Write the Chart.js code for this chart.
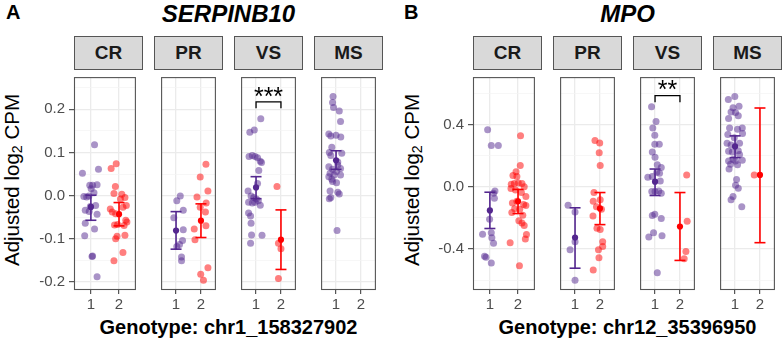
<!DOCTYPE html>
<html><head><meta charset="utf-8">
<script src="https://cdn.jsdelivr.net/npm/chart.js@4.4.1/dist/chart.umd.min.js"></script>
<style>
html,body{margin:0;padding:0;background:#fff;}
#root{position:relative;width:784px;height:341px;overflow:hidden;font-family:"Liberation Sans",Arial,sans-serif;}
.abs{position:absolute;white-space:nowrap;line-height:1;}
.tag{font-weight:bold;font-size:20px;color:#000;}
.title{font-weight:bold;font-style:italic;font-size:24px;color:#000;transform:translateX(-50%);}
.strip{position:absolute;box-sizing:border-box;background:#d9d9d9;border:1px solid #555;font-weight:bold;font-size:19px;color:#1a1a1a;display:flex;align-items:center;justify-content:center;}
.xt{font-weight:bold;font-size:20px;color:#000;transform:translate(-50%,-50%);}
.yt{font-size:20.5px;color:#000;transform:translate(-50%,-50%) rotate(-90deg);}
.yt sub{font-size:0.7em;vertical-align:-0.25em;line-height:0;}
canvas{position:absolute;}
</style></head>
<body><div id="root"></div>
<script>
// ---------- text ----------
const facets = ['CR','PR','VS','MS'];
const tags = ['A','B'];
const genes = ['SERPINB10','MPO'];
const xTitles = ['Genotype: chr1_158327902','Genotype: chr12_35396950'];
const xTickValues = [1, 2];
const xTickLabels = ['1', '2'];

// ---------- Panel A (SERPINB10) ----------
const A_yMajor = [-0.2, -0.1, 0, 0.1, 0.2];
const A_yLabels = ['-0.2', '-0.1', '0.0', '0.1', '0.2'];
const A_yMinor = [-0.15, -0.05, 0.05, 0.15, 0.25];
const A_yRange = [-0.2186, 0.2747];

const A_CR_g1 = [0.118, 0.052, 0.061, 0.024, 0.024, 0.025, 0.016, -0.002, -0.003, -0.001, 0.007, -0.025, -0.034, -0.037, -0.023, -0.043, -0.064, -0.077, -0.093, -0.140, -0.141, -0.188];
const A_CR_g1_jit = [0.13, -0.30, 0.27, -0.04, 0.06, 0.22, 0.01, -0.25, -0.15, -0.07, 0.11, -0.02, -0.20, -0.06, 0.17, 0.22, -0.20, 0.13, -0.22, 0.06, 0.04, 0.22];
const A_CR_g2 = [0.063, 0.074, 0.021, 0.005, 0.003, -0.008, -0.004, -0.031, -0.038, -0.042, -0.027, -0.023, -0.057, -0.061, -0.068, -0.067, -0.069, -0.094, -0.100, -0.092, -0.132, -0.151];
const A_CR_g2_jit = [-0.28, -0.10, -0.13, -0.18, 0.10, 0.05, 0.21, -0.31, -0.24, -0.12, 0.14, 0.26, 0.24, 0.28, -0.16, -0.05, 0.18, -0.07, -0.12, 0.21, 0.14, -0.18];
const A_PR_g1 = [-0.001, -0.012, -0.034, -0.051, -0.079, -0.104, -0.113, -0.118, -0.142, -0.151];
const A_PR_g1_jit = [0.17, 0.03, 0.29, -0.09, 0.29, 0.26, 0.14, 0.03, 0.22, 0.22];
const A_PR_g2 = [0.073, 0.043, -0.003, 0.011, -0.017, -0.027, -0.038, -0.077, -0.070, -0.102, -0.167, -0.182, -0.196];
const A_PR_g2_jit = [0.20, -0.03, -0.16, 0.28, 0.21, -0.03, 0.18, -0.27, 0.20, -0.24, 0.28, -0.01, 0.10];
const A_VS_g1 = [0.178, 0.147, 0.152, 0.091, 0.093, 0.091, 0.088, 0.080, 0.077, 0.058, 0.028, 0.011, -0.001, -0.004, -0.008, -0.017, -0.015, -0.015, -0.022, -0.012, -0.040, -0.047, -0.064, -0.091, -0.092, -0.110];
const A_VS_g1_jit = [0.19, -0.25, -0.07, -0.28, -0.15, -0.04, 0.06, 0.17, 0.22, 0.11, 0.06, -0.32, -0.20, -0.09, 0.01, -0.15, -0.30, -0.04, 0.17, 0.09, -0.30, -0.22, -0.20, -0.18, 0.24, -0.22];
const A_VS_g2 = [0.021, -0.110, -0.123, -0.192];
const A_VS_g2_jit = [-0.16, -0.10, 0.00, -0.10];
const A_MS_g1 = [0.230, 0.216, 0.204, 0.196, 0.172, 0.143, 0.138, 0.140, 0.136, 0.112, 0.100, 0.098, 0.093, 0.078, 0.067, 0.061, 0.071, 0.063, 0.056, 0.052, 0.048, 0.048, 0.044, 0.033, 0.030, 0.038, 0.011, 0.008, 0.004, -0.004, -0.007, -0.081];
const A_MS_g1_jit = [-0.12, -0.14, -0.10, 0.13, 0.18, -0.29, -0.21, 0.00, 0.19, -0.17, -0.27, 0.23, -0.21, 0.07, -0.29, -0.14, 0.07, 0.18, 0.02, -0.24, -0.08, 0.18, -0.29, -0.14, 0.02, -0.17, -0.24, 0.07, 0.13, -0.21, -0.27, 0.04];
const A_MS_g2 = [];
const A_MS_g2_jit = [];

const A_g1_mean = [-0.026, -0.081, 0.019, 0.082];
const A_g1_lo   = [-0.057, -0.124, -0.007, 0.061];
const A_g1_hi   = [0.001, -0.037, 0.044, 0.104];
const A_g2_mean = [-0.043, -0.058, -0.102, null];
const A_g2_lo   = [-0.070, -0.097, -0.171, null];
const A_g2_hi   = [-0.016, -0.019, -0.033, null];
const A_sig = [null, null, '***', null];
const A_sigBar = [0.2175, 0.2025, 0.2364]; // bracket line, bracket tips, label centre

// ---------- Panel B (MPO) ----------
const B_yMajor = [-0.4, 0, 0.4];
const B_yLabels = ['-0.4', '0.0', '0.4'];
const B_yMinor = [-0.6, -0.2, 0.2, 0.6];
const B_yRange = [-0.663, 0.7045];

const B_CR_g1 = [0.367, 0.265, 0.265, -0.027, -0.042, -0.073, -0.208, -0.305, -0.295, -0.328, -0.363, -0.446, -0.452, -0.489];
const B_CR_g1_jit = [-0.08, 0.05, 0.30, 0.18, 0.13, 0.16, -0.01, -0.26, 0.05, 0.07, 0.13, -0.19, -0.14, 0.05];
const B_CR_g2 = [0.327, 0.137, 0.097, 0.072, 0.066, 0.016, 0.021, 0.025, 0.021, 0.000, -0.011, -0.021, -0.037, -0.062, -0.104, -0.093, -0.114, -0.121, -0.141, -0.166, -0.145, -0.183, -0.218, -0.233, -0.249, -0.307, -0.336, -0.359, -0.508];
const B_CR_g2_jit = [0.09, 0.08, -0.07, -0.18, -0.04, -0.24, -0.13, 0.01, 0.14, 0.22, -0.25, -0.09, 0.12, 0.28, -0.20, -0.04, 0.20, 0.28, -0.12, -0.22, 0.06, 0.17, 0.03, 0.14, 0.22, 0.30, 0.26, -0.28, 0.05];
const B_PR_g1 = [-0.118, -0.162, -0.353, -0.404, -0.601];
const B_PR_g1_jit = [-0.28, 0.00, 0.00, -0.20, 0.00];
const B_PR_g2 = [0.298, 0.282, 0.218, 0.137, -0.037, -0.093, -0.083, -0.129, -0.145, -0.187, -0.266, -0.274, -0.353, -0.384, -0.404, -0.456, -0.535];
const B_PR_g2_jit = [-0.20, -0.01, -0.03, 0.01, -0.24, -0.27, 0.01, -0.14, 0.06, -0.28, -0.12, 0.01, 0.11, 0.11, -0.06, -0.04, -0.27];
const B_VS_g1 = [0.514, 0.419, 0.377, 0.331, 0.273, 0.273, 0.224, 0.190, 0.141, 0.124, 0.093, 0.087, 0.062, 0.066, 0.037, -0.031, -0.031, -0.027, -0.042, -0.185, -0.177, -0.203, -0.295, -0.323, -0.315, -0.552];
const B_VS_g1_jit = [-0.14, 0.04, -0.09, -0.01, -0.01, 0.17, -0.11, 0.00, 0.09, 0.25, 0.07, 0.18, -0.29, -0.11, 0.21, -0.13, 0.00, 0.15, 0.25, -0.11, -0.01, 0.25, -0.06, -0.25, 0.28, 0.09];
const B_VS_g2 = [0.076, -0.222, -0.415, -0.463];
const B_VS_g2_jit = [0.27, 0.29, 0.24, 0.17];
const B_MS_g1 = [0.560, 0.580, 0.508, 0.518, 0.481, 0.477, 0.439, 0.456, 0.377, 0.369, 0.377, 0.342, 0.336, 0.315, 0.280, 0.269, 0.280, 0.228, 0.224, 0.232, 0.207, 0.176, 0.166, 0.166, 0.170, 0.145, 0.141, 0.114, 0.047, 0.010, -0.010, -0.062, -0.083, -0.129];
const B_MS_g1_jit = [-0.27, -0.01, -0.08, 0.16, -0.16, 0.02, -0.26, 0.13, -0.22, 0.10, 0.29, 0.30, -0.29, -0.03, -0.32, -0.16, 0.18, -0.26, -0.11, 0.13, 0.18, -0.08, -0.26, 0.02, 0.29, -0.18, 0.10, -0.24, 0.06, 0.02, 0.13, -0.08, -0.16, 0.27];
const B_MS_g2 = [0.076];
const B_MS_g2_jit = [-0.23];

const B_g1_mean = [-0.152, -0.326, 0.033, 0.259];
const B_g1_lo   = [-0.268, -0.523, -0.056, 0.187];
const B_g1_hi   = [-0.035, -0.135, 0.114, 0.327];
const B_g2_mean = [-0.093, -0.139, -0.255, 0.076];
const B_g2_lo   = [-0.172, -0.243, -0.473, -0.359];
const B_g2_hi   = [-0.017, -0.037, -0.037, 0.506];
const B_sig = [null, null, '**', null];
const B_sigBar = [0.585, 0.543, 0.639];

// ---------- styles / layout ----------
const FONT = '"Liberation Sans", Arial, sans-serif';
const COL = ['#54278F', '#FF0000'];
const COL_A = ['rgba(84,39,143,0.5)', 'rgba(255,0,0,0.5)'];
const PLOT_TOP = 70, PLOT_H = 220, XAXIS_H = 40, FACET_W = 69, FACET_STEP = 80;
const STRIP_TOP = 36, STRIP_H = 34;

const root = document.getElementById('root');
function addDiv(cls, html, css) {
  const d = document.createElement('div');
  d.className = cls; d.innerHTML = html;
  Object.assign(d.style, css);
  root.appendChild(d);
  return d;
}

const borderPlugin = {
  id: 'panelBorder',
  afterDatasetsDraw(chart, args, opts) {
    const a = chart.chartArea, ctx = chart.ctx;
    if (opts.sig) {
      const xs = chart.scales.x, ys = chart.scales.y;
      ctx.save();
      ctx.fillStyle = '#000';
      ctx.font = '25px ' + FONT;
      ctx.textAlign = 'center';
      ctx.textBaseline = 'alphabetic';
      ctx.fillText(opts.sig, xs.getPixelForValue(1.5), ys.getPixelForValue(opts.sigY) + 11);
      ctx.restore();
    }
    ctx.save();
    ctx.strokeStyle = '#555';
    ctx.lineWidth = 1.1;
    ctx.strokeRect(a.left + 0.5, a.top + 0.5, a.right - a.left - 1, a.bottom - a.top - 1);
    ctx.restore();
  }
};

function zeroPad(s) { s.paddingLeft = 0; s.paddingRight = 0; s.paddingTop = 0; s.paddingBottom = 0; }

function facetChart(p) {
  const cv = document.createElement('canvas');
  const w = p.yAxisW + FACET_W, h = PLOT_H + XAXIS_H;
  cv.width = w; cv.height = h;
  Object.assign(cv.style, { left: (p.plotLeft - p.yAxisW) + 'px', top: PLOT_TOP + 'px', width: w + 'px', height: h + 'px' });
  root.appendChild(cv);

  const ds = [];
  const groups = [[p.g1, p.j1, 1, 0], [p.g2, p.j2, 2, 1]];
  groups.forEach(([vals, jit, gx, ci]) => {
    if (vals.length) ds.push({
      data: vals.map((v, i) => ({ x: gx + jit[i], y: v })),
      pointRadius: 3.5, pointBorderWidth: 0, pointBackgroundColor: COL_A[ci], backgroundColor: COL_A[ci],
      borderColor: 'rgba(0,0,0,0)', order: 5
    });
  });
  const summ = [[p.m1, p.lo1, p.hi1, 1, 0], [p.m2, p.lo2, p.hi2, 2, 1]];
  summ.forEach(([m, lo, hi, gx, ci]) => {
    if (m === null || m === undefined) return;
    ds.push({ data: [{ x: gx, y: lo }, { x: gx, y: hi }], showLine: true, borderColor: COL[ci], borderWidth: 1.6, pointRadius: 0, order: 3 });
    ds.push({ data: [{ x: gx, y: lo }, { x: gx, y: hi }], pointStyle: 'line', pointRadius: 5.5, pointBorderColor: COL[ci], borderColor: COL[ci], pointBorderWidth: 1.6, order: 3 });
    ds.push({ data: [{ x: gx, y: m }], pointRadius: 3.1, pointBorderWidth: 0, pointBackgroundColor: COL[ci], backgroundColor: COL[ci], order: 2 });
  });
  if (p.sig) {
    ds.push({ data: [{ x: 1, y: p.sigBar[1] }, { x: 1, y: p.sigBar[0] }, { x: 2, y: p.sigBar[0] }, { x: 2, y: p.sigBar[1] }],
      showLine: true, borderColor: '#000', borderWidth: 1.3, pointRadius: 0, order: 1 });
  }
  const allY = p.yMajor.concat(p.yMinor).sort((a, b) => a - b);
  const isMaj = v => p.yMajor.indexOf(v) >= 0;

  new Chart(cv, {
    type: 'scatter',
    data: { datasets: ds },
    options: {
      responsive: false, maintainAspectRatio: false, animation: false, events: [],
      devicePixelRatio: 1,
      layout: { padding: 0 },
      plugins: { legend: { display: false }, tooltip: { enabled: false },
        panelBorder: { sig: p.sig, sigY: p.sig ? p.sigBar[2] : null } },
      scales: {
        x: {
          type: 'linear', min: 0.4, max: 2.6,
          afterBuildTicks: s => { s.ticks = xTickValues.map(v => ({ value: v })); },
          ticks: { callback: v => xTickLabels[xTickValues.indexOf(v)], color: '#4d4d4d', font: { size: 15, family: FONT }, padding: 2, maxRotation: 0, autoSkip: false },
          grid: { color: '#ebebeb', lineWidth: 1.3, tickColor: '#444', tickLength: 4, tickWidth: 1.1 },
          border: { display: false },
          afterFit: s => { s.height = XAXIS_H; zeroPad(s); }
        },
        y: {
          type: 'linear', min: p.yRange[0], max: p.yRange[1],
          afterBuildTicks: s => { s.ticks = allY.map(v => ({ value: v })); },
          ticks: { display: p.showY, autoSkip: false, callback: v => { const i = p.yMajor.indexOf(v); return i >= 0 ? p.yLabels[i] : ''; },
            color: '#4d4d4d', font: { size: 15, family: FONT }, padding: 4 },
          grid: {
            color: c => isMaj(c.tick.value) ? '#ebebeb' : '#f3f3f3',
            lineWidth: c => isMaj(c.tick.value) ? 1.3 : 0.7,
            drawTicks: p.showY, tickLength: 5, tickWidth: 1.1,
            tickColor: c => isMaj(c.tick.value) ? '#444' : 'rgba(0,0,0,0)'
          },
          border: { display: false },
          afterFit: s => { s.width = p.yAxisW; zeroPad(s); }
        }
      }
    },
    plugins: [borderPlugin]
  });
}

const panelDefs = [
  { left0: 74, yAxisW: 74, yMajor: A_yMajor, yLabels: A_yLabels, yMinor: A_yMinor, yRange: A_yRange,
    g1: [A_CR_g1, A_PR_g1, A_VS_g1, A_MS_g1], j1: [A_CR_g1_jit, A_PR_g1_jit, A_VS_g1_jit, A_MS_g1_jit],
    g2: [A_CR_g2, A_PR_g2, A_VS_g2, A_MS_g2], j2: [A_CR_g2_jit, A_PR_g2_jit, A_VS_g2_jit, A_MS_g2_jit],
    m1: A_g1_mean, lo1: A_g1_lo, hi1: A_g1_hi, m2: A_g2_mean, lo2: A_g2_lo, hi2: A_g2_hi, sig: A_sig, sigBar: A_sigBar,
    tagX: 6, yTitleX: 12 },
  { left0: 473, yAxisW: 73, yMajor: B_yMajor, yLabels: B_yLabels, yMinor: B_yMinor, yRange: B_yRange,
    g1: [B_CR_g1, B_PR_g1, B_VS_g1, B_MS_g1], j1: [B_CR_g1_jit, B_PR_g1_jit, B_VS_g1_jit, B_MS_g1_jit],
    g2: [B_CR_g2, B_PR_g2, B_VS_g2, B_MS_g2], j2: [B_CR_g2_jit, B_PR_g2_jit, B_VS_g2_jit, B_MS_g2_jit],
    m1: B_g1_mean, lo1: B_g1_lo, hi1: B_g1_hi, m2: B_g2_mean, lo2: B_g2_lo, hi2: B_g2_hi, sig: B_sig, sigBar: B_sigBar,
    tagX: 404, yTitleX: 412 }
];

panelDefs.forEach((P, pi) => {
  const centre = P.left0 + (3 * FACET_STEP + FACET_W) / 2;
  addDiv('abs tag', tags[pi], { left: P.tagX + 'px', top: '2px' });
  addDiv('abs title', genes[pi], { left: centre + 'px', top: '2px' });
  addDiv('abs xt', xTitles[pi], { left: centre + 'px', top: '327px' });
  addDiv('abs yt', 'Adjusted log<sub>2</sub> CPM', { left: P.yTitleX + 'px', top: (PLOT_TOP + PLOT_H / 2) + 'px' });
  facets.forEach((f, fi) => {
    const plotLeft = P.left0 + fi * FACET_STEP;
    addDiv('strip', f, { left: plotLeft + 'px', top: STRIP_TOP + 'px', width: FACET_W + 'px', height: STRIP_H + 'px' });
    facetChart({
      plotLeft, yAxisW: fi === 0 ? P.yAxisW : 0, showY: fi === 0,
      yMajor: P.yMajor, yLabels: P.yLabels, yMinor: P.yMinor, yRange: P.yRange,
      g1: P.g1[fi], j1: P.j1[fi], g2: P.g2[fi], j2: P.j2[fi],
      m1: P.m1[fi], lo1: P.lo1[fi], hi1: P.hi1[fi], m2: P.m2[fi], lo2: P.lo2[fi], hi2: P.hi2[fi],
      sig: P.sig[fi], sigBar: P.sigBar
    });
  });
});
</script>
</body></html>
